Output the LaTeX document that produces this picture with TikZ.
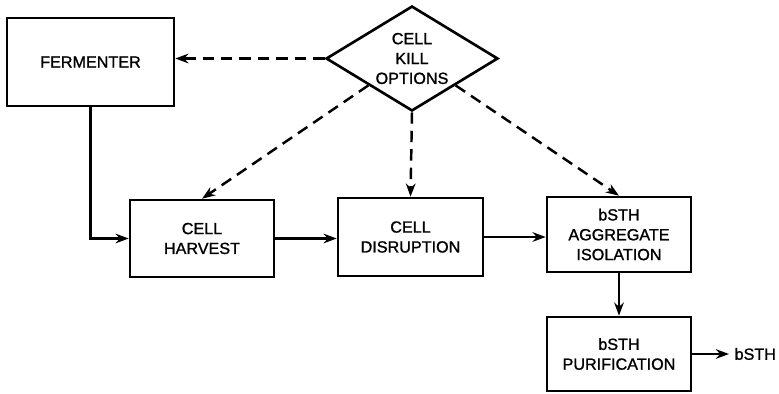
\documentclass[tikz,border=0pt]{standalone}
\usepackage{fontspec}
\setmainfont[FakeBold=1.2]{Liberation Sans}
\usetikzlibrary{shapes.geometric,arrows.meta}
\tikzset{
	stage/.style={draw,line width=1.5pt,align=center,inner sep=2pt},
	flow/.style={-{Stealth[length=7.5pt,width=5.5pt]},line width=1.2pt},
	kill/.style={flow,dashed,dash pattern=on 6.5pt off 4pt,line width=1.4pt}
}
\begin{document}
\begin{tikzpicture}[x=0.02cm,y=-0.02cm,font=\fontsize{9.2}{11.3}\selectfont]
				%\draw [help lines] (0,0) grid (779,393);
				\useasboundingbox (0,0) rectangle (779,393);
				\node[stage,minimum width=3.34cm,minimum height=1.76cm] (fermenter) at (90.5,62) {FERMENTER};
				\node[stage,shape=diamond,aspect=1.64,inner sep=0pt,minimum width=3.44cm,minimum height=2.1cm] (options) at (412,58.5) {CELL\\KILL\\OPTIONS};
				\node[stage,minimum width=2.88cm,minimum height=1.54cm] (harvest) at (202,238.5) {CELL\\HARVEST};
				\node[stage,minimum width=2.9cm,minimum height=1.56cm] (disruption) at (410.5,237) {CELL\\DISRUPTION};
				\node[stage,minimum width=2.88cm,minimum height=1.5cm] (isolation) at (619,234.5) {bSTH\\AGGREGATE\\ISOLATION};
				\node[stage,minimum width=2.88cm,minimum height=1.48cm] (purification) at (619,354) {bSTH\\PURIFICATION};
				\node[anchor=west,inner sep=3pt] (product) at (729,354) {bSTH};
				\draw[flow] (fermenter.south) |- (harvest.west);
				\draw[flow] (harvest.east) -- (harvest.east -| disruption.west);
				\draw[flow] (disruption.east) -- (disruption.east -| isolation.west);
				\draw[flow] (isolation.south) -- (purification.north);
				\draw[flow] (purification.east) -- (product.west);
				\draw[kill] (options.west) -- (options.west -| fermenter.east);
				\draw[kill] (options.south west) -- (harvest.north);
				\draw[kill] (options.south) -- (disruption.north);
				\draw[kill] (options.south east) -- (isolation.north);
\end{tikzpicture}
\end{document}
